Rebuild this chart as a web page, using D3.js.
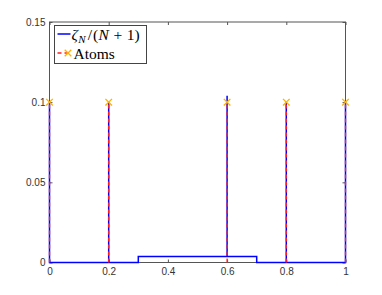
<!DOCTYPE html>
<html>
<head>
<meta charset="utf-8">
<script src="https://cdn.jsdelivr.net/npm/d3@7"></script>
<style>
  body { margin: 0; background: #fff; }
  .tick text { font-family: "Liberation Sans", Helvetica, Arial, sans-serif; font-size: 10px; fill: #333; }
</style>
</head>
<body>
<svg id="paper"></svg>
<script>
// zeta_N/(N+1) curve, as drawn
const zetaX = [0, 0, 0, 0.2, 0.2, 0.2, 0.3, 0.3, 0.6, 0.6, 0.6, 0.7, 0.7, 0.8, 0.8, 0.8, 1, 1];
const zetaY = [0, 0.1, 0, 0, 0.1, 0, 0, 0.00375, 0.00375, 0.104, 0.00375, 0.00375, 0, 0, 0.1, 0, 0, 0.1];

// atoms
const atomX = [0, 0.2, 0.6, 0.8, 1];
const atomMass = [0.1, 0.1, 0.1, 0.1, 0.1];

const xTicks = [0, 0.2, 0.4, 0.6, 0.8, 1];
const yTicks = [0, 0.05, 0.1, 0.15];
const yTickLabels = ["0", "0.05", "0.1", "0.15"];

const width = 382, height = 295;
const margin = { top: 22, right: 36.5, bottom: 32.5, left: 49.5 };

const svg = d3.select("#paper")
  .attr("width", width)
  .attr("height", height);

const x = d3.scaleLinear().domain([0, 1]).range([margin.left, width - margin.right]);
const y = d3.scaleLinear().domain([0, 0.15]).range([height - margin.bottom, margin.top]);

const axisColor = "#555";

// axes
svg.append("g")
  .attr("transform", `translate(0,${y(0)})`)
  .call(d3.axisBottom(x).tickValues(xTicks).tickSize(-3).tickPadding(5)
    .tickFormat(d3.format("~g")))
  .call((g) => g.select(".domain").remove());

svg.append("g")
  .attr("transform", `translate(${x(0)},0)`)
  .call(d3.axisLeft(y).tickValues(yTicks).tickSize(-3).tickPadding(4)
    .tickFormat((d, i) => yTickLabels[i]))
  .call((g) => g.select(".domain").remove());

svg.append("g")
  .attr("transform", `translate(0,${y(0.15)})`)
  .call(d3.axisTop(x).tickValues(xTicks).tickSize(-3).tickFormat(""))
  .call((g) => g.select(".domain").remove());

svg.append("g")
  .attr("transform", `translate(${x(1)},0)`)
  .call(d3.axisRight(y).tickValues(yTicks).tickSize(-3).tickFormat(""))
  .call((g) => g.select(".domain").remove());

svg.selectAll(".tick line").attr("stroke", axisColor);

svg.append("rect")
  .attr("x", x(0))
  .attr("y", y(0.15))
  .attr("width", x(1) - x(0))
  .attr("height", y(0) - y(0.15))
  .attr("fill", "none")
  .attr("stroke", axisColor)
  .attr("stroke-width", 1);

// zeta curve
const zeta = zetaX.map((v, i) => [v, zetaY[i]]);
svg.append("path")
  .datum(zeta)
  .attr("fill", "none")
  .attr("stroke", "#0000ff")
  .attr("stroke-width", 1.5)
  .attr("d", d3.line().x((d) => x(d[0])).y((d) => y(d[1])));

// atoms: dashed stems + x markers
const atoms = atomX.map((v, i) => ({ x: v, m: atomMass[i] }));
svg.append("g")
  .selectAll("line")
  .data(atoms)
  .enter()
  .append("line")
  .attr("x1", (d) => x(d.x))
  .attr("x2", (d) => x(d.x))
  .attr("y1", y(0))
  .attr("y2", (d) => y(d.m))
  .attr("stroke", "#ff2020")
  .attr("stroke-width", 1.3)
  .attr("stroke-dasharray", "4,3");

const cross = d3.symbol().type(d3.symbolX).size(30);
svg.append("g")
  .selectAll("path")
  .data(atoms)
  .enter()
  .append("path")
  .attr("transform", (d) => `translate(${x(d.x)},${y(d.m)})`)
  .attr("d", cross)
  .attr("fill", "none")
  .attr("stroke", "#ffb000")
  .attr("stroke-width", 1.3);

// legend
const serif = "'Liberation Serif', 'DejaVu Serif', serif";
const lg = svg.append("g").attr("transform", "translate(54.5,25.5)");
lg.append("rect")
  .attr("width", 92)
  .attr("height", 38)
  .attr("fill", "#fff")
  .attr("stroke", "#444");

lg.append("line")
  .attr("x1", 3).attr("x2", 16).attr("y1", 8.5).attr("y2", 8.5)
  .attr("stroke", "#0000ff").attr("stroke-width", 1.5);
const t1 = lg.append("text")
  .attr("x", 17).attr("y", 14)
  .attr("font-family", serif)
  .attr("font-size", 15.5)
  .attr("fill", "#000");
t1.append("tspan").attr("font-style", "italic").text("ζ");
t1.append("tspan").attr("font-style", "italic").attr("font-size", 11).attr("dy", 3).attr("dx", 0.5).text("N");
t1.append("tspan").attr("dy", -3).attr("dx", 2).text("/");
t1.append("tspan").attr("dx", 1).text("(");
t1.append("tspan").attr("font-style", "italic").attr("dx", 0.5).text("N");
t1.append("tspan").attr("dx", 4.5).text("+");
t1.append("tspan").attr("dx", 4.5).text("1)");

lg.append("line")
  .attr("x1", 3).attr("x2", 16).attr("y1", 27.5).attr("y2", 27.5)
  .attr("stroke", "#ff2020").attr("stroke-width", 1.3)
  .attr("stroke-dasharray", "4,3");
lg.append("path")
  .attr("transform", "translate(13.5,27.5)")
  .attr("d", cross)
  .attr("fill", "none")
  .attr("stroke", "#ffb000")
  .attr("stroke-width", 1.3);
lg.append("text")
  .attr("x", 19).attr("y", 33)
  .attr("font-family", serif)
  .attr("font-size", 15.5)
  .attr("fill", "#000")
  .text("Atoms");
</script>
</body>
</html>
